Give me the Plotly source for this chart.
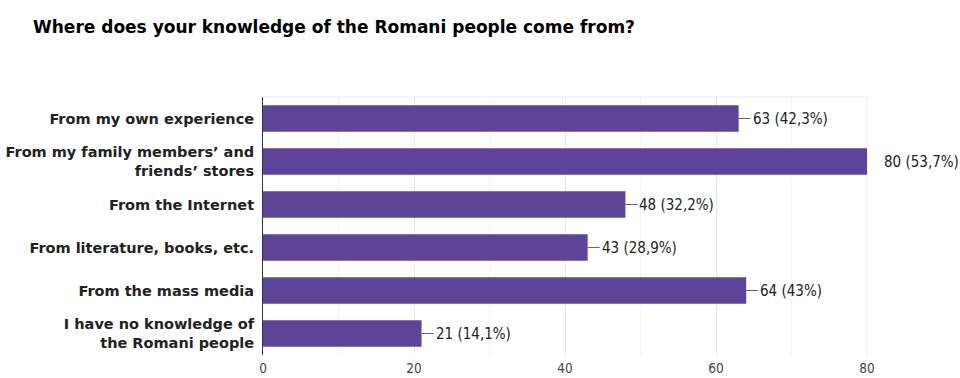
import plotly.graph_objects as go

categories = [
    "From my own experience",
    "From my family members’ and<br>friends’ stores",
    "From the Internet",
    "From literature, books, etc.",
    "From the mass media",
    "I have no knowledge of<br>the Romani people",
]
counts = [63, 80, 48, 43, 64, 21]
percents = ["42,3%", "53,7%", "32,2%", "28,9%", "43%", "14,1%"]
x_ticks = [0, 20, 40, 60, 80]
x_max = 80

bar_color = "#5e4498"
bold_font = "DejaVu Sans, sans-serif"
cond_font = "DejaVu Sans Condensed, DejaVu Sans, sans-serif"

fig = go.Figure()
fig.add_trace(go.Bar(
    x=counts,
    y=categories,
    orientation="h",
    width=0.62,
    marker=dict(color=bar_color, line=dict(width=0)),
    hoverinfo="skip",
))

# value labels with a short leader line from the bar end
for cat, n, p in zip(categories, counts, percents):
    at_edge = n >= x_max
    fig.add_annotation(
        x=n, y=cat, xref="x", yref="y",
        text=f"{n} ({p})",
        showarrow=True, arrowhead=0, arrowwidth=1,
        arrowcolor="rgba(0,0,0,0)" if at_edge else "#666666",
        ax=15 if at_edge else 12, ay=0,
        xanchor="left", yanchor="middle",
        font=dict(family=cond_font, size=15, color="#222222"),
        standoff=0, startstandoff=0,
    )

# lighter minor gridlines between labelled ticks
for v in range(10, x_max, 20):
    fig.add_shape(type="line", xref="x", yref="paper", x0=v, x1=v, y0=0, y1=1,
                  line=dict(color="#f3f3f3", width=1), layer="below")
# top and right frame in the light grid colour
fig.add_shape(type="line", xref="paper", yref="paper", x0=0, x1=1, y0=1, y1=1,
              line=dict(color="#ebebeb", width=1), layer="below")
fig.add_shape(type="line", xref="paper", yref="paper", x0=1, x1=1, y0=0, y1=1,
              line=dict(color="#ebebeb", width=1), layer="below")

fig.update_layout(
    width=960, height=378,
    margin=dict(l=263, r=93, t=97, b=23, autoexpand=False),
    paper_bgcolor="white", plot_bgcolor="white",
    showlegend=False,
    title=dict(
        text="Where does your knowledge of the Romani people come from?",
        x=33 / 960, xref="container", xanchor="left",
        y=1 - 27 / 378, yref="container", yanchor="middle",
        font=dict(family=bold_font, size=17, color="#000000", weight="bold"),
    ),
)

fig.update_xaxes(
    range=[0, x_max], tickvals=x_ticks,
    showgrid=True, gridcolor="#e8e8e8", gridwidth=1,
    zeroline=False, showline=False,
    tickfont=dict(family=cond_font, size=13.5, color="#444444"),
    ticks="outside", ticklen=1, tickcolor="rgba(0,0,0,0)",
    automargin=False,
)
fig.update_yaxes(
    autorange="reversed",
    showgrid=False, zeroline=False,
    showline=True, linecolor="#333333", linewidth=1,
    tickfont=dict(family=bold_font, size=14.5, color="#222222", weight="bold"),
    ticks="outside", ticklen=5, tickcolor="rgba(0,0,0,0)",
    automargin=False,
)

fig.write_html("out.html")
